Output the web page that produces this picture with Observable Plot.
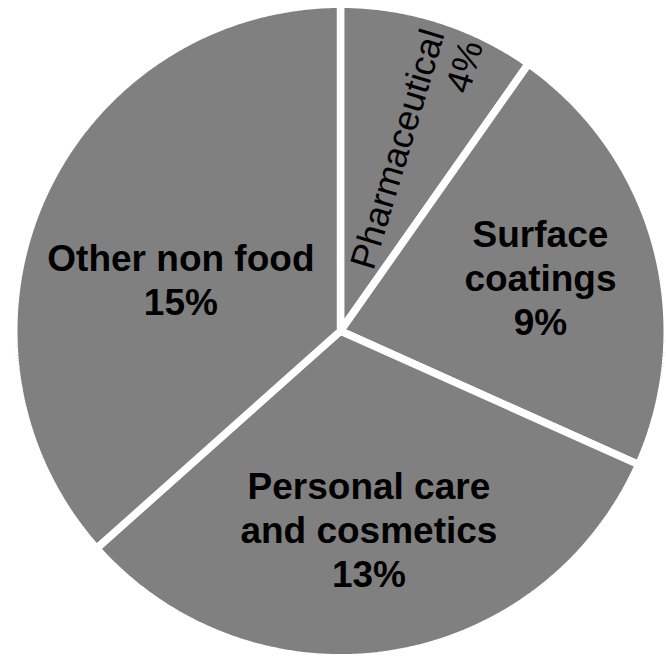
<!DOCTYPE html>
<html>
<head>
<meta charset="utf-8">
<script src="https://cdn.jsdelivr.net/npm/d3@7"></script>
<script src="https://cdn.jsdelivr.net/npm/@observablehq/plot@0.6"></script>
<style>
  html, body { margin: 0; padding: 0; background: #ffffff; }
  #chart svg { display: block; }
</style>
</head>
<body>
<div id="chart"></div>
<script>
// Non-food end uses, share of total (%)
const categories = ["Pharmaceutical", "Surface coatings", "Personal care and cosmetics", "Other non food"];
const shares = [4, 9, 13, 15];
const labelText = ["Pharmaceutical", "Surface\ncoatings", "Personal care\nand cosmetics", "Other non food"];

// Layout: frame, pie centre and radius in pixels
const W = 666, H = 656;
const CX = 340, CY = 330.5, R = 326.75;
const GAP = 7.5;
// Label anchors: radius as a fraction of the pie, angle nudge from the slice mid-angle (degrees)
const labelRadius = [0.966, 0.634, 0.611, 0.514];
const labelNudge = [3.1, 0.2, 0.6, -6.0];

const arcs = d3.pie().sort(null).startAngle(0).endAngle(2 * Math.PI)(shares);

// Polygon outline of every wedge in unit-circle coordinates (y up, angle clockwise from 12 o'clock)
const wedgePoints = arcs.flatMap((a, i) => {
  const pts = [{name: categories[i], x: 0, y: 0}];
  const n = Math.max(2, Math.ceil((a.endAngle - a.startAngle) / (Math.PI / 360)));
  for (let k = 0; k <= n; ++k) {
    const t = a.startAngle + (a.endAngle - a.startAngle) * k / n;
    pts.push({name: categories[i], x: Math.sin(t), y: Math.cos(t)});
  }
  return pts;
});

const labels = arcs.map((a, i) => {
  const midDeg = (a.startAngle + a.endAngle) / 2 * 180 / Math.PI;
  const pos = (midDeg + labelNudge[i]) * Math.PI / 180;
  return {
    name: categories[i],
    text: labelText[i] + "\n" + shares[i] + "%",
    x: labelRadius[i] * Math.sin(pos),
    y: labelRadius[i] * Math.cos(pos),
    // radial reading direction for the narrow slice
    rotate: -(90 - midDeg) - 0.8
  };
});

const font = "Arial, 'Liberation Sans', sans-serif";

const chart = Plot.plot({
  width: W,
  height: H,
  margin: 0,
  style: {background: "#ffffff", overflow: "visible"},
  x: {domain: [-CX / R, (W - CX) / R], axis: null},
  y: {domain: [-(H - CY) / R, CY / R], axis: null},
  marks: [
    Plot.line(wedgePoints, {
      x: "x", y: "y", z: "name",
      curve: "linear-closed",
      fill: "#808080",
      stroke: "#ffffff",
      strokeWidth: GAP,
      strokeLinejoin: "miter"
    }),
    Plot.text(labels.slice(0, 1), {
      x: "x", y: "y", text: "text",
      rotate: "rotate",
      textAnchor: "end",
      lineHeight: 1.12,
      fontSize: 36,
      fontFamily: font,
      fontWeight: "normal",
      fill: "#000000"
    }),
    Plot.text(labels.slice(1), {
      x: "x", y: "y", text: "text",
      textAnchor: "middle",
      lineHeight: 1.19,
      fontSize: 37,
      fontFamily: font,
      fontWeight: "bold",
      fill: "#000000"
    })
  ]
});

document.getElementById("chart").appendChild(chart);
</script>
</body>
</html>
